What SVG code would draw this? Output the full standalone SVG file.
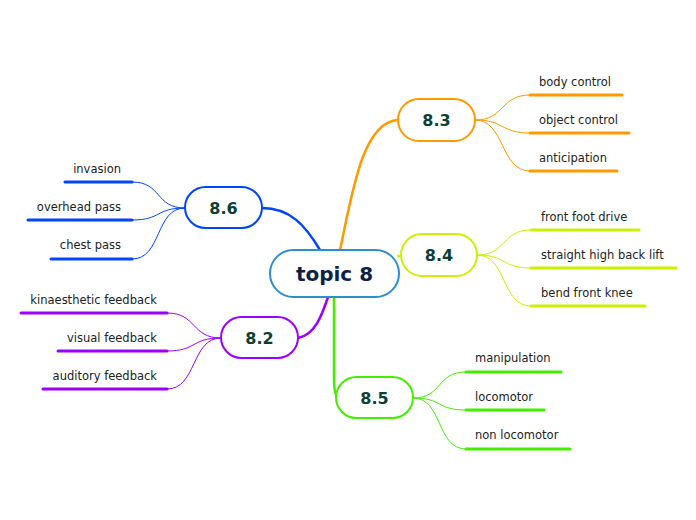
<svg xmlns="http://www.w3.org/2000/svg" width="696" height="520" viewBox="0 0 696 520">
<style>
.node{fill:#fff;stroke-width:2}
.lbl{font-family:"DejaVu Sans",Verdana,sans-serif;font-weight:bold;font-size:16px;fill:#0d4035;text-anchor:middle}
.sub{font-family:"DejaVu Sans",Verdana,sans-serif;font-size:11.5px;fill:#222}
.r{text-anchor:end}
.ul{stroke-width:3;stroke-linecap:round;fill:none}
.c{fill:none;stroke-width:1}
.m{fill:none;stroke-width:2.5}
</style>
<rect width="696" height="520" fill="#fff"/>
<g id="connectors">
<path class="m" stroke="#ff9900" d="M340,250 C352,195 362,122 398,120"/>
<path class="m" stroke="#ccf000" d="M397,256 L402,256"/>
<path class="m" stroke="#44ee00" d="M334,297 L334,380 C334,392 336,396 338,398"/>
<path class="m" stroke="#0044ff" d="M262,208 C290,208 305,225 320,250"/>
<path class="m" stroke="#9900ff" d="M298,338 C315,335 322,315 328,297"/>
<g stroke="#ff9900">
<path class="c" d="M475,120 C505,120 500,95 530,95"/>
<path class="c" d="M475,120 C505,120 500,133 530,133"/>
<path class="c" d="M475,120 C505,120 500,171 530,171"/>
<path class="ul" d="M530,95 H622 M530,133 H629 M530,171 H617"/>
</g>
<g stroke="#ccf000">
<path class="c" d="M477,255 C507,255 501,230 531,230"/>
<path class="c" d="M477,255 C507,255 501,268 531,268"/>
<path class="c" d="M477,255 C507,255 501,306 531,306"/>
<path class="ul" d="M531,230 H639 M531,268 H676 M531,306 H645"/>
</g>
<g stroke="#44ee00">
<path class="c" d="M413,398 C443,398 436,372 466,372"/>
<path class="c" d="M413,398 C443,398 436,410 466,410"/>
<path class="c" d="M413,398 C443,398 436,449 466,449"/>
<path class="ul" d="M466,372 H561 M466,410 H544 M466,449 H570"/>
</g>
<g stroke="#0044ff">
<path class="c" d="M185,208 C155,208 162,182 132,182"/>
<path class="c" d="M185,208 C155,208 162,220 132,220"/>
<path class="c" d="M185,208 C155,208 162,259 132,259"/>
<path class="ul" d="M65,182 H132 M28,220 H132 M51,259 H132"/>
</g>
<g stroke="#9900ff">
<path class="c" d="M221,338 C191,338 197,313 167,313"/>
<path class="c" d="M221,338 C191,338 197,351 167,351"/>
<path class="c" d="M221,338 C191,338 197,389 167,389"/>
<path class="ul" d="M21,313 H167 M58,351 H167 M43,389 H167"/>
</g>
</g>
<g id="topic8">
<rect class="node" x="270" y="250" width="129" height="47" rx="23.5" stroke="#2a8fd0"/>
<text x="334.5" y="281" font-family="DejaVu Sans,Verdana,sans-serif" font-weight="bold" font-size="20" fill="#0d1f4a" text-anchor="middle">topic 8</text>
</g>
<g id="n83">
<rect class="node" x="398" y="99" width="77" height="42" rx="21" stroke="#ff9900"/>
<text class="lbl" x="436.5" y="126">8.3</text>
<text class="sub" x="539" y="86">body control</text>
<text class="sub" x="539" y="124">object control</text>
<text class="sub" x="539" y="162">anticipation</text>
</g>
<g id="n84">
<rect class="node" x="401" y="234" width="76" height="42" rx="21" stroke="#ccf000"/>
<text class="lbl" x="439" y="261">8.4</text>
<text class="sub" x="541" y="221">front foot drive</text>
<text class="sub" x="541" y="259">straight high back lift</text>
<text class="sub" x="541" y="297">bend front knee</text>
</g>
<g id="n85">
<rect class="node" x="336" y="377" width="77" height="41" rx="20.5" stroke="#44ee00"/>
<text class="lbl" x="374.5" y="404">8.5</text>
<text class="sub" x="475" y="362">manipulation</text>
<text class="sub" x="475" y="401">locomotor</text>
<text class="sub" x="475" y="439">non locomotor</text>
</g>
<g id="n86">
<rect class="node" x="185" y="187" width="77" height="41" rx="20.5" stroke="#0044ff"/>
<text class="lbl" x="223.5" y="214">8.6</text>
<text class="sub r" x="121" y="173">invasion</text>
<text class="sub r" x="121" y="211">overhead pass</text>
<text class="sub r" x="121" y="249">chest pass</text>
</g>
<g id="n82">
<rect class="node" x="221" y="317" width="77" height="41" rx="20.5" stroke="#9900ff"/>
<text class="lbl" x="259.5" y="344">8.2</text>
<text class="sub r" x="157" y="304">kinaesthetic feedback</text>
<text class="sub r" x="157" y="342">visual feedback</text>
<text class="sub r" x="157" y="380">auditory feedback</text>
</g>
</svg>
